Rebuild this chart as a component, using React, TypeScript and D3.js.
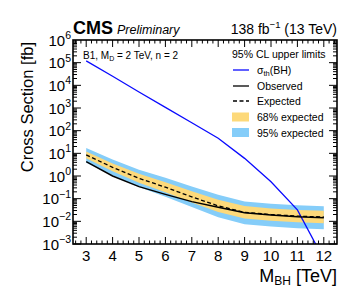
import React, {useEffect, useRef} from 'react';
import * as d3 from 'd3';

const masses = [3, 4, 5, 6, 7, 8, 9, 10, 11, 12];
const observed = [4.3, 1.0, 0.34, 0.155, 0.074, 0.042, 0.024, 0.019, 0.016, 0.0145];
const expected = [8.5, 2.4, 0.79, 0.32, 0.12, 0.048, 0.025, 0.02, 0.017, 0.0155];
const lo68 = [6.0, 1.62, 0.5, 0.19, 0.067, 0.026, 0.0134, 0.0107, 0.0091, 0.0083];
const hi68 = [12.0, 3.55, 1.25, 0.53, 0.21, 0.089, 0.047, 0.037, 0.032, 0.029];
const lo95 = [3.8, 1.07, 0.33, 0.12, 0.043, 0.015, 0.0074, 0.0059, 0.005, 0.0045];
const hi95 = [17, 5.4, 1.9, 0.84, 0.34, 0.15, 0.075, 0.06, 0.051, 0.046];
const theory = [1.2e5, 2.5e4, 5100, 1070, 224, 46, 6, 0.56, 0.032, 0.00021];

const xTicks = [3, 4, 5, 6, 7, 8, 9, 10, 11, 12];
const yExps = [-3, -2, -1, 0, 1, 2, 3, 4, 5, 6];

const W = 357, H = 306;
const L = 73, R = 337, T = 40, B = 244;
const FONT = '"Liberation Sans", Arial, Helvetica, sans-serif';

function App() {
  const ref = useRef<SVGGElement>(null);

  useEffect(() => {
    const svg = d3.select(ref.current);
    svg.selectAll('*').remove();

    const x = d3.scaleLinear().domain([2.5, 12.5]).range([L, R]);
    const y = d3.scaleLog().domain([1e-3, 1e6]).range([B, T]);

    svg.append('defs').append('clipPath').attr('id', 'plotclip')
      .append('rect').attr('x', L).attr('y', T).attr('width', R - L).attr('height', B - T);

    const g = svg.append('g').attr('clip-path', 'url(#plotclip)');

    const band = (lo: number[], hi: number[]) =>
      d3.area<number>()
        .x(i => x(masses[i]))
        .y0(i => y(lo[i]))
        .y1(i => y(hi[i]))(masses.map((_, i) => i));

    g.append('path').attr('d', band(lo95, hi95)).attr('fill', '#85cdf9');
    g.append('path').attr('d', band(lo68, hi68)).attr('fill', '#fdd97a');

    const line = (vals: number[]) =>
      d3.line<number>().x(i => x(masses[i])).y(i => y(vals[i]))(masses.map((_, i) => i));

    g.append('path').attr('d', line(theory)).attr('fill', 'none')
      .attr('stroke', '#0a0aff').attr('stroke-width', 1.3);
    g.append('path').attr('d', line(observed)).attr('fill', 'none')
      .attr('stroke', '#000').attr('stroke-width', 1.5);
    g.append('path').attr('d', line(expected)).attr('fill', 'none')
      .attr('stroke', '#000').attr('stroke-width', 1.3).attr('stroke-dasharray', '4,2.5');

    // ticks on all sides, pointing inward
    const ax = svg.append('g').attr('stroke', '#000').attr('stroke-width', 1);
    for (let v = 2.6; v < 12.5; v += 0.2) {
      const vv = Math.round(v * 10) / 10;
      const major = Math.abs(vv - Math.round(vv)) < 1e-6;
      const len = major ? 7 : 3.5;
      ax.append('line').attr('x1', x(vv)).attr('x2', x(vv)).attr('y1', B).attr('y2', B - len);
      ax.append('line').attr('x1', x(vv)).attr('x2', x(vv)).attr('y1', T).attr('y2', T + len);
    }
    for (let e = -3; e < 6; e++) {
      for (let k = 1; k < 10; k++) {
        const yy = y(k * Math.pow(10, e));
        const len = k === 1 ? 8 : 4;
        ax.append('line').attr('x1', L).attr('x2', L + len).attr('y1', yy).attr('y2', yy);
        ax.append('line').attr('x1', R).attr('x2', R - len).attr('y1', yy).attr('y2', yy);
      }
    }

    svg.append('rect').attr('x', L).attr('y', T).attr('width', R - L).attr('height', B - T)
      .attr('fill', 'none').attr('stroke', '#000').attr('stroke-width', 1.6);

    // tick labels
    svg.append('g').selectAll('text').data(xTicks).join('text')
      .attr('x', d => x(d)).attr('y', 261).attr('text-anchor', 'middle')
      .attr('font-family', FONT).attr('font-size', 15).text(d => d);

    const yl = svg.append('g').selectAll('text').data(yExps).join('text')
      .attr('x', 71).attr('y', d => y(Math.pow(10, d)) + 5.5).attr('text-anchor', 'end')
      .attr('font-family', FONT).attr('font-size', 15);
    yl.append('tspan').text('10');
    yl.append('tspan').attr('dy', -6.5).attr('font-size', 10.5)
      .text(d => (d < 0 ? '\u2212' + Math.abs(d) : String(d)));
  }, []);

  const legend = [
    {label: 'Observed', y: 86, kind: 'obs'},
    {label: 'Expected', y: 101, kind: 'exp'},
  ];

  return (
    <svg width={W} height={H} style={{position: 'absolute', left: 0, top: 0}}
         fontFamily={FONT}>
      <g ref={ref}/>
      <text x={73} y={33.5} fontSize={18} fontWeight="bold">CMS</text>
      <text x={117} y={33.5} fontSize={12.5} fontStyle="italic">Preliminary</text>
      <text x={337} y={33.5} fontSize={14} textAnchor="end">
        138 fb<tspan dy={-5.5} fontSize={9.5}>{'\u22121'}</tspan><tspan dy={5.5}> (13 TeV)</tspan>
      </text>
      <text x={83} y={59} fontSize={10}>
        B1, M<tspan dy={2} fontSize={7}>D</tspan><tspan dy={-2}> = 2 TeV, n = 2</tspan>
      </text>
      <text x={232} y={58} fontSize={10.5}>95% CL upper limits</text>
      <line x1={233} x2={249} y1={70} y2={70} stroke="#0a0aff" strokeWidth={1.3}/>
      <text x={257} y={73.5} fontSize={10.5}>
        {'\u03c3'}<tspan dy={2} fontSize={7.5}>th</tspan><tspan dy={-2}>(BH)</tspan>
      </text>
      {legend.map(d => (
        <g key={d.label}>
          <line x1={233} x2={249} y1={d.y} y2={d.y} stroke="#000" strokeWidth={1.3}
                strokeDasharray={d.kind === 'exp' ? '4,2.5' : undefined}/>
          <text x={257} y={d.y + 3.5} fontSize={10.5}>{d.label}</text>
        </g>
      ))}
      <rect x={232} y={112.5} width={17} height={9} fill="#fdd97a"/>
      <text x={257} y={121} fontSize={10.5}>68% expected</text>
      <rect x={232} y={128} width={17} height={9} fill="#85cdf9"/>
      <text x={257} y={136.5} fontSize={10.5}>95% expected</text>
      <text transform="translate(33,42) rotate(-90)" textAnchor="end" fontSize={16.5}>
        Cross Section [fb]
      </text>
      <text x={337} y={281.5} textAnchor="end" fontSize={18}>
        M<tspan dy={3.5} fontSize={12}>BH</tspan><tspan dy={-3.5}> [TeV]</tspan>
      </text>
    </svg>
  );
}

export default App;
